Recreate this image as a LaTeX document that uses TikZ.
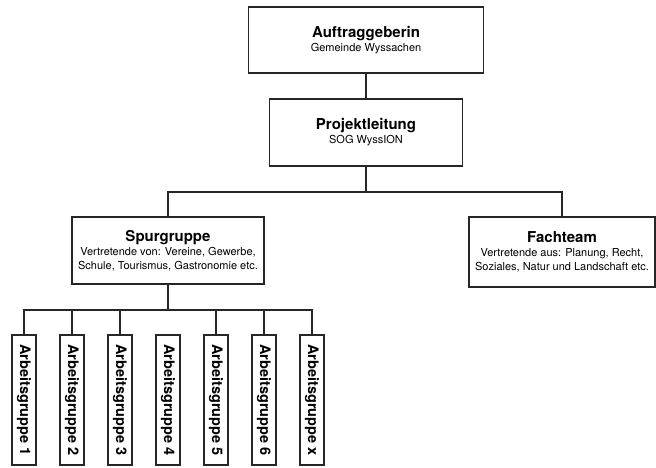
\documentclass[tikz,border=0pt]{standalone}
\usepackage{fontspec}
\setmainfont{TeX Gyre Heros}
\newcommand{\ttl}{\fontsize{15}{14}\selectfont\bfseries}
\newcommand{\sbt}{\fontsize{11}{14}\selectfont}
\begin{document}
\begin{tikzpicture}[x=1pt,y=-1pt,
  box/.style={draw=black!85,line width=1.2pt,inner sep=0pt,align=center,font=\sbt},
  agbox/.style={draw=black!85,line width=1.2pt,inner sep=0pt,rotate=-90,minimum width=130pt,minimum height=24pt,font=\fontsize{14.5}{14}\selectfont\bfseries},
  conn/.style={draw=black!85,line width=1.2pt}]
\useasboundingbox (0,0) rectangle (656,467);
\node[box,minimum width=235pt,minimum height=66pt] (auf) at (366,40) {{\ttl Auftraggeberin}\\{\sbt Gemeinde Wyssachen}};
\node[box,minimum width=193pt,minimum height=67pt] (pro) at (366,132.5) {{\ttl Projektleitung}\\{\sbt SOG WyssION}};
\node[box,minimum width=192pt,minimum height=67pt] (spur) at (168,250.5) {{\ttl Spurgruppe}\\{\sbt Vertretende von: Vereine, Gewerbe,}\\{\sbt Schule, Tourismus, Gastronomie etc.}};
\node[box,minimum width=186pt,minimum height=70pt] (fach) at (562,252) {{\ttl Fachteam}\\{\sbt Vertretende aus: Planung, Recht,}\\{\sbt Soziales, Natur und Landschaft etc.}};
\foreach \i/\t in {0/1,1/2,2/3,3/4,4/5,5/6,6/x}{
  \node[agbox] (ag\t) at ({24+48*\i},400) {Arbeitsgruppe \t};
}
\coordinate (j1) at (366,192);
\coordinate (j2) at (168,310);
\draw[conn] (auf) -- (pro);
\draw[conn] (pro) -- (j1);
\draw[conn] (spur.north) |- (j1) -| (fach.north);
\draw[conn] (spur) -- (j2);
\draw[conn] (ag1.west) |- (j2) -| (agx.west);
\foreach \t in {2,3,5,6}{
  \draw[conn] (ag\t.west) -- (ag\t.west |- j2);
}
\end{tikzpicture}
\end{document}
